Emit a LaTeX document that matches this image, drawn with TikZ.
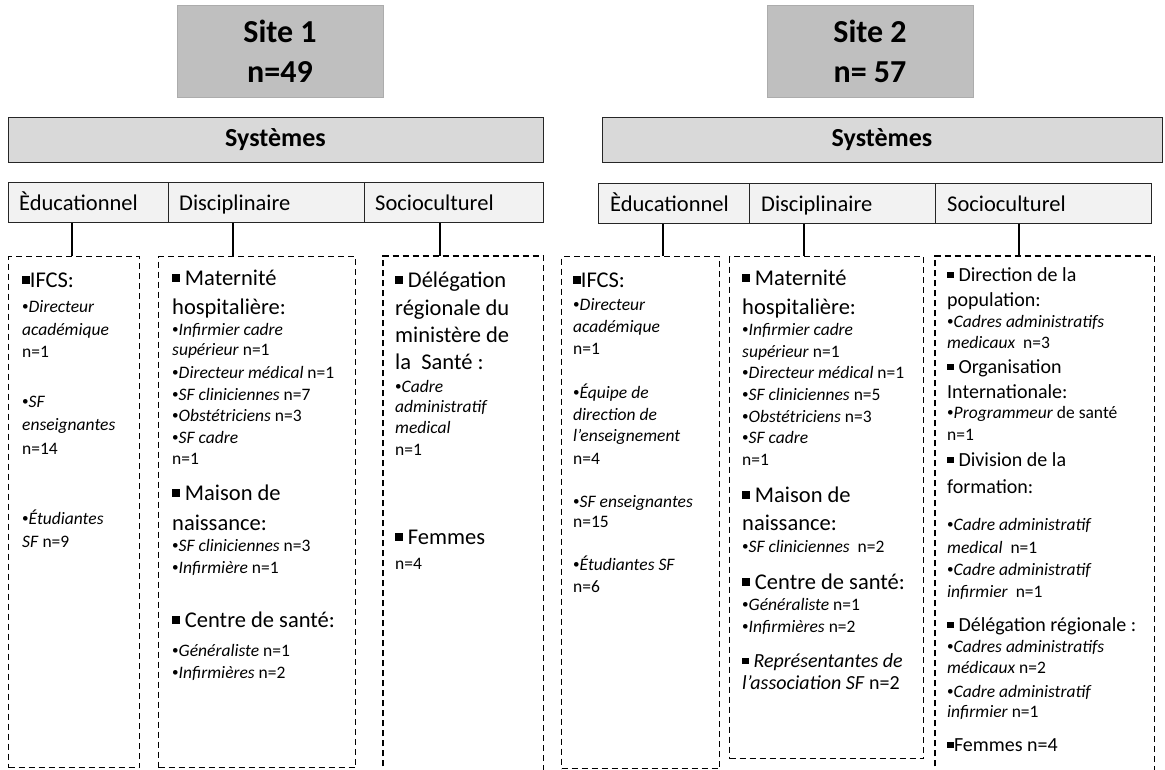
\documentclass[tikz,border=0pt]{standalone}
\usepackage{fontspec}
\setmainfont{Carlito}
\newcommand\sq{\rule[0.13em]{0.34em}{0.34em}}
\newcommand\bul{\raisebox{0.08em}{\scalebox{0.75}{•}}}
\definecolor{sitegray}{HTML}{BFBFBF}
\definecolor{sysgray}{HTML}{D9D9D9}
\definecolor{cellgray}{HTML}{F2F2F2}
\begin{document}
\begin{tikzpicture}[x=1pt,y=-1pt,
  sitebox/.style={fill=sitegray, draw=sitegray!90!black, line width=0.4pt, font=\fontsize{32}{40}\selectfont\bfseries, align=center, minimum width=206pt, minimum height=92pt, inner sep=0pt},
  sysbar/.style={draw=black!85, fill=sysgray, line width=1pt, font=\fontsize{26}{30}\selectfont\bfseries, minimum height=45pt, inner sep=0pt},
  cell/.style={draw=black!85, fill=cellgray, line width=1pt, minimum height=40pt, inner sep=0pt, anchor=west},
  celltext/.style={anchor=base west, inner sep=0pt, font=\fontsize{22.5}{26}\selectfont},
  dbox/.style={draw=black, line width=1.2pt, dash pattern=on 6pt off 4pt, anchor=north west, inner sep=0pt},
  dline/.style={draw=black, line width=1.2pt, dash pattern=on 6pt off 4pt},
  conn/.style={draw=black, line width=1.2pt},
  big/.style={anchor=base west, inner sep=0pt, font=\fontsize{22.5}{26}\selectfont},
  mid/.style={anchor=base west, inner sep=0pt, font=\fontsize{20}{23}\selectfont},
  sm/.style={anchor=base west, inner sep=0pt, font=\fontsize{17.5}{20}\selectfont}
]
\useasboundingbox (0,0) rectangle (1165,769);

% ---------------- Site 1 ----------------
\node[sitebox] (s1) at (280,51) {Site 1\\n=49};
\node[sysbar, minimum width=535pt] (sys1) at (275.5,139.5) {Systèmes};
\node[cell, minimum width=160pt] (ed1) at (8,202) {};
\node[cell, minimum width=196pt] (di1) at (168,202) {};
\node[cell, minimum width=179pt] (so1) at (364,202) {};
\node[celltext] (ted1) at ([xshift=11pt,yshift=-8pt]ed1.west) {Èducationnel};
\node[celltext] (tdi1) at ([xshift=11pt,yshift=-8pt]di1.west) {Disciplinaire};
\node[celltext] (tso1) at ([xshift=11pt,yshift=-8pt]so1.west) {Socioculturel};

\node[dbox, minimum width=131pt, minimum height=511pt] (bA) at (8,256) {};
\node[dbox, minimum width=197pt, minimum height=511pt] (bB) at (158,256) {};
\node[anchor=north west, inner sep=0pt, minimum width=160pt, minimum height=520pt] (bC) at (383,256) {};
\draw[dline] (bC.south west) -- (bC.north west) -- (bC.north east) -- (bC.south east);

\draw[conn] ([xshift=64pt]bA.north west) -- ([xshift=64pt]bA.north west |- ed1.south);
\draw[conn] ([xshift=75pt]bB.north west) -- ([xshift=75pt]bB.north west |- di1.south);
\draw[conn] ([xshift=57pt]bC.north west) -- ([xshift=57pt]bC.north west |- so1.south);

% box A
\node[big] (a1) at (22,287) {\sq IFCS:};
\node[sm] (a2) at (22,312) {\bul\textit{Directeur}};
\node[sm] (a3) at (22,335) {\textit{académique}};
\node[sm] (a4) at (22,357) {n=1};
\node[sm] (a5) at (22,407) {\bul\textit{SF}};
\node[sm] (a6) at (22,430) {\textit{enseignantes}};
\node[sm] (a7) at (22,454) {n=14};
\node[sm] (a8) at (22,524) {\bul\textit{Étudiantes}};
\node[sm] (a9) at (22,547) {\textit{SF} n=9};

% box B
\node[big] (b1) at (172,285) {\sq{} Maternité};
\node[big] (b2) at (172,314) {hospitalière:};
\node[sm] (b3) at (172,335) {\bul\textit{Infirmier cadre}};
\node[sm] (b4) at (172,355) {\textit{supérieur} n=1};
\node[sm] (b5) at (172,378) {\bul\textit{Directeur médical} n=1};
\node[sm] (b6) at (172,400) {\bul\textit{SF cliniciennes} n=7};
\node[sm] (b7) at (172,421) {\bul\textit{Obstétriciens} n=3};
\node[sm] (b8) at (172,443) {\bul\textit{SF cadre}};
\node[sm] (b9) at (172,464) {n=1};
\node[big] (b10) at (172,500) {\sq{} Maison de};
\node[big] (b11) at (172,530) {naissance:};
\node[sm] (b12) at (172,551) {\bul\textit{SF cliniciennes} n=3};
\node[sm] (b13) at (172,573) {\bul\textit{Infirmière} n=1};
\node[big] (b14) at (172,627) {\sq{} Centre de santé:};
\node[sm] (b15) at (172,656) {\bul\textit{Généraliste} n=1};
\node[sm] (b16) at (172,678) {\bul\textit{Infirmières} n=2};

% box C
\node[big] (c1) at (395,287) {\sq{} Délégation};
\node[big] (c2) at (395,315) {régionale du};
\node[big] (c3) at (395,342) {ministère de};
\node[big] (c4) at (395,369) {la~~Santé :};
\node[sm] (c5) at (395,392) {\bul\textit{Cadre}};
\node[sm] (c6) at (395,412) {\textit{administratif}};
\node[sm] (c7) at (395,433) {\textit{medical}};
\node[sm] (c8) at (395,455) {n=1};
\node[big] (c9) at (395,544) {\sq{} Femmes};
\node[sm] (c10) at (395,569) {n=4};

% ---------------- Site 2 ----------------
\node[sitebox] (s2) at (870,51) {Site 2\\n= 57};
\node[sysbar, minimum width=560pt] (sys2) at (882,139.5) {Systèmes};
\node[cell, minimum width=151pt] (ed2) at (598,203) {};
\node[cell, minimum width=186pt] (di2) at (749,203) {};
\node[cell, minimum width=216pt] (so2) at (935,203) {};
\node[celltext] (ted2) at ([xshift=12pt,yshift=-8pt]ed2.west) {Èducationnel};
\node[celltext] (tdi2) at ([xshift=12pt,yshift=-8pt]di2.west) {Disciplinaire};
\node[celltext] (tso2) at ([xshift=12pt,yshift=-8pt]so2.west) {Socioculturel};

\node[dbox, minimum width=158pt, minimum height=512pt] (bD) at (561,256) {};
\node[dbox, minimum width=194pt, minimum height=502pt] (bE) at (729,256) {};
\node[anchor=north west, inner sep=0pt, minimum width=219pt, minimum height=520pt] (bF) at (935,256) {};
\draw[dline] (bF.south west) -- (bF.north west) -- (bF.north east) -- (bF.south east);

\draw[conn] ([xshift=102pt]bD.north west) -- ([xshift=102pt]bD.north west |- ed2.south);
\draw[conn] ([xshift=75pt]bE.north west) -- ([xshift=75pt]bE.north west |- di2.south);
\draw[conn] ([xshift=84pt]bF.north west) -- ([xshift=84pt]bF.north west |- so2.south);

% box D
\node[big] (d1) at (573,287) {\sq IFCS:};
\node[sm] (d2) at (573,310) {\bul\textit{Directeur}};
\node[sm] (d3) at (573,332) {\textit{académique}};
\node[sm] (d4) at (573,354) {n=1};
\node[sm] (d5) at (573,398) {\bul\textit{Équipe de}};
\node[sm] (d6) at (573,420) {\textit{direction de}};
\node[sm] (d7) at (573,441) {\textit{l’enseignement}};
\node[sm] (d8) at (573,464) {n=4};
\node[sm] (d9) at (573,507) {\bul\textit{SF enseignantes}};
\node[sm] (d10) at (573,527) {n=15};
\node[sm] (d11) at (573,570) {\bul\textit{Étudiantes SF}};
\node[sm] (d12) at (573,592) {n=6};

% box E
\node[big] (e1) at (742,285) {\sq{} Maternité};
\node[big] (e2) at (742,314) {hospitalière:};
\node[sm] (e3) at (742,335) {\bul\textit{Infirmier cadre}};
\node[sm] (e4) at (742,357) {\textit{supérieur} n=1};
\node[sm] (e5) at (742,378) {\bul\textit{Directeur médical} n=1};
\node[sm] (e6) at (742,400) {\bul\textit{SF cliniciennes} n=5};
\node[sm] (e7) at (742,422) {\bul\textit{Obstétriciens} n=3};
\node[sm] (e8) at (742,443) {\bul\textit{SF cadre}};
\node[sm] (e9) at (742,465) {n=1};
\node[big] (e10) at (742,502) {\sq{} Maison de};
\node[big] (e11) at (742,530) {naissance:};
\node[sm] (e12) at (742,552) {\bul\textit{SF cliniciennes}~~n=2};
\node[big] (e13) at (742,589) {\sq{} Centre de santé:};
\node[sm] (e14) at (742,610) {\bul\textit{Généraliste} n=1};
\node[sm] (e15) at (742,632) {\bul\textit{Infirmières} n=2};
\node[mid] (e16) at (742,667) {\sq{} \textit{Représentantes de}};
\node[mid] (e17) at (742,689) {\textit{l’association SF} n=2};

% box F
\node[mid] (f1) at (947,281) {\sq{} Direction de la};
\node[mid] (f2) at (947,306) {population:};
\node[sm] (f3) at (947,327) {\bul\textit{Cadres administratifs}};
\node[sm] (f4) at (947,348) {\textit{medicaux}~~n=3};
\node[mid] (f5) at (947,373) {\sq{} Organisation};
\node[mid] (f6) at (947,398) {Internationale:};
\node[sm] (f7) at (947,418) {\bul\textit{Programmeur} de santé};
\node[sm] (f8) at (947,440) {n=1};
\node[mid] (f9) at (947,466) {\sq{} Division de la};
\node[mid] (f10) at (947,493) {formation:};
\node[sm] (f11) at (947,530) {\bul\textit{Cadre administratif}};
\node[sm] (f12) at (947,553) {\textit{medical}~~n=1};
\node[sm] (f13) at (947,575) {\bul\textit{Cadre administratif}};
\node[sm] (f14) at (947,597) {\textit{infirmier}~~n=1};
\node[mid] (f15) at (947,631) {\sq{} Délégation régionale :};
\node[sm] (f16) at (947,652) {\bul\textit{Cadres administratifs}};
\node[sm] (f17) at (947,673) {\textit{médicaux} n=2};
\node[sm] (f18) at (947,697) {\bul\textit{Cadre administratif}};
\node[sm] (f19) at (947,717) {\textit{infirmier} n=1};
\node[mid] (f20) at (947,751) {\sq Femmes n=4};
\end{tikzpicture}
\end{document}
